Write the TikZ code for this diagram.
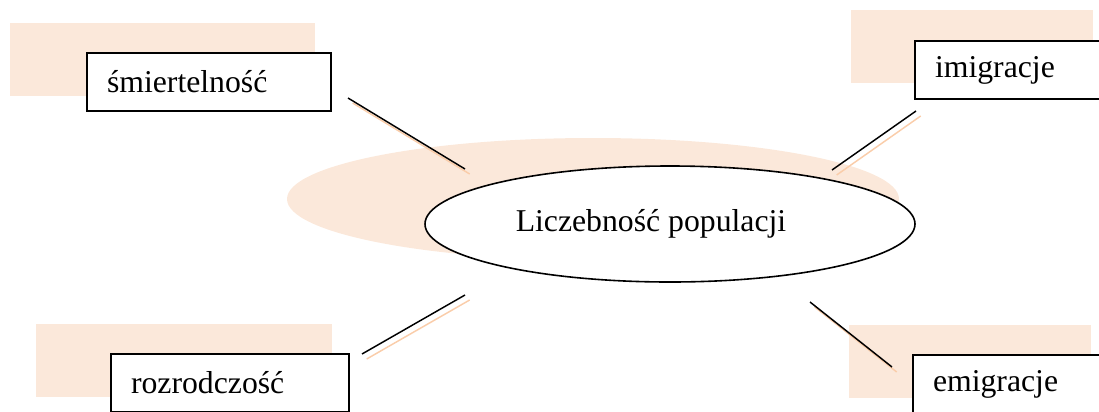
\documentclass[tikz,border=0pt]{standalone}
\usepackage{fontspec}
\setmainfont{Liberation Serif}
\usetikzlibrary{shapes.geometric,positioning}
\definecolor{brzoskw}{RGB}{251,232,218}
\definecolor{brzoskwlinia}{RGB}{250,205,170}
\tikzstyle{pole} = [rectangle, draw=black, line width=1.1pt, fill=white, inner xsep=15pt, text width=153pt, minimum height=43.5pt, align=left, font=\fontsize{23.8}{28}\selectfont]
\tikzstyle{cienpole} = [rectangle, fill=brzoskw, minimum height=54.75pt, inner sep=0pt]
\tikzstyle{owal} = [ellipse, draw=black, line width=1.2pt, fill=white, minimum width=367.5pt, minimum height=87pt, inner sep=0pt, font=\fontsize{23.8}{28}\selectfont]
\tikzstyle{cienowal} = [ellipse, fill=brzoskw, minimum width=459pt, minimum height=91.5pt, inner sep=0pt]
\tikzstyle{linia} = [line width=1.1pt, black]
\tikzstyle{cienlinia} = [line width=1.1pt, brzoskwlinia, transform canvas={shift={(3.5pt,-3.75pt)}}]

\begin{document}
\begin{tikzpicture}[x=0.75pt,y=-0.75pt]
\useasboundingbox (0,0) rectangle (1099,411);
% srodki
\coordinate (smierC) at (209,82);
\coordinate (imigC) at (1037,70);
\coordinate (rozrC) at (230,383);
\coordinate (emigC) at (1035,384);
\coordinate (liczC) at (670,224);
% cienie
\node[cienpole,minimum width=228.75pt] (smierS) at (smierC) [xshift=-34.9pt,yshift=16.9pt] {};
\node[cienpole,minimum width=181.5pt] (imigS) at (imigC) [xshift=-48.75pt,yshift=17.6pt] {};
\node[cienpole,minimum width=222pt] (rozrS) at (rozrC) [xshift=-34.5pt,yshift=16.9pt] {};
\node[cienpole,minimum width=181.5pt] (emigS) at (emigC) [xshift=-48.75pt,yshift=16.9pt] {};
\node[cienowal] (liczS) at (liczC) [xshift=-57.75pt,yshift=18.75pt] {};
% konce linii
\coordinate (smierA) at (348,98);
\coordinate (smierB) at (465,169);
\coordinate (imigA) at (916,111);
\coordinate (imigB) at (832,170);
\coordinate (rozrA) at (362,354);
\coordinate (rozrB) at (465,295);
\coordinate (emigA) at (810,302);
\coordinate (emigB) at (892,367);
\foreach \n in {smier,imig,rozr,emig}{
  \draw[cienlinia] (\n A) -- (\n B);
  \draw[linia] (\n A) -- (\n B);
}
% pola
\node[pole] (smier) at (smierC) {śmiertelność};
\node[pole] (imig) at (imigC) {imigracje};
\node[pole,text width=148.5pt] (rozr) at (rozrC) {rozrodczość};
\node[pole] (emig) at (emigC) {emigracje};
\node[owal] (licz) at (liczC) {Liczebność populacji\rule{28.5pt}{0pt}};
\end{tikzpicture}
\end{document}
